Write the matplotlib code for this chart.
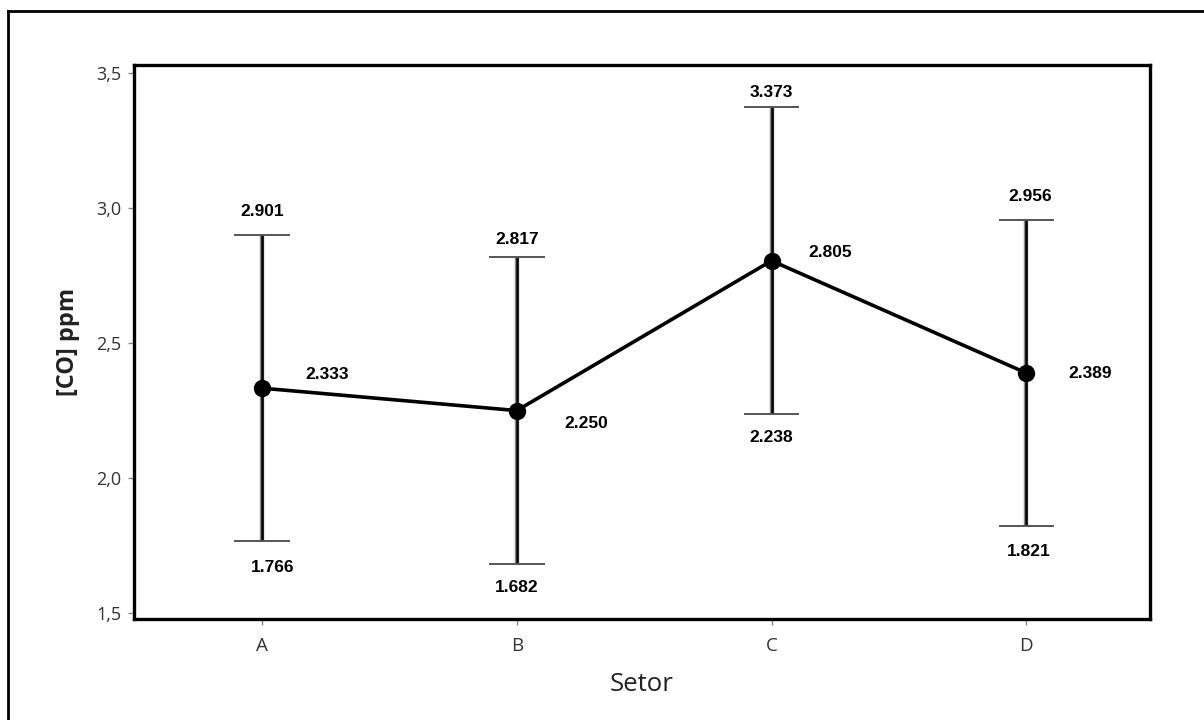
import matplotlib
matplotlib.use('Agg')
import matplotlib.pyplot as plt
from matplotlib.lines import Line2D
from matplotlib.ticker import FuncFormatter

# mean CO concentration per sector with the interval limits
setores = ["A", "B", "C", "D"]
media = [2.333, 2.250, 2.805, 2.389]
limite_sup = [2.901, 2.817, 3.373, 2.956]
limite_inf = [1.766, 1.682, 2.238, 1.821]

# label offsets in points (dx, dy) for mean / upper / lower values
off_media = [(47, 10), (50, -9), (42, 6), (46, 0)]
off_sup = [(0, 17), (0, 13), (0, 11), (3, 17)]
off_inf = [(8, -19), (0, -17), (0, -17), (2, -18)]

fig = plt.figure(figsize=(12.04, 7.2), dpi=100)
ax = fig.add_axes([134 / 1204, 1 - 619 / 720, (1150 - 134) / 1204, (619 - 65) / 720])

x = list(range(len(setores)))
for i in x:
    ax.plot([i, i], [limite_inf[i], limite_sup[i]], color="#8a8a8a", lw=3.2,
            solid_capstyle="butt", zorder=2)
    ax.plot([i, i], [limite_inf[i], limite_sup[i]], color="black", lw=1.8,
            solid_capstyle="butt", zorder=3)
    for v in (limite_inf[i], limite_sup[i]):
        ax.plot([i - 0.105, i + 0.105], [v, v], color="#555555", lw=1.4, zorder=3)

ax.plot(x, media, color="black", lw=2.6, marker="o", ms=11.5, zorder=4)

lbl = dict(fontfamily="Liberation Sans", fontweight="bold", fontsize=12.5,
           ha="center", va="center", color="black")
for i in x:
    ax.annotate(f"{media[i]:.3f}", (i, media[i]), xytext=off_media[i],
                textcoords="offset points", **lbl)
    ax.annotate(f"{limite_sup[i]:.3f}", (i, limite_sup[i]), xytext=off_sup[i],
                textcoords="offset points", **lbl)
    ax.annotate(f"{limite_inf[i]:.3f}", (i, limite_inf[i]), xytext=off_inf[i],
                textcoords="offset points", **lbl)

ax.set_xlim(-0.502, 3.485)
ax.set_ylim(1.478, 3.53)
ax.set_xticks(x)
ax.set_xticklabels(setores)
ax.set_yticks([1.5, 2.0, 2.5, 3.0, 3.5])
ax.yaxis.set_major_formatter(FuncFormatter(lambda v, p: f"{v:.1f}".replace(".", ",")))
ax.tick_params(axis="both", length=4, width=1, color="#888888", labelcolor="#333333",
               labelsize=13, pad=5)
ax.tick_params(axis="x", pad=9, labelsize=13.5)
for t in ax.get_xticklabels() + ax.get_yticklabels():
    t.set_fontfamily("Open Sans")

for s in ax.spines.values():
    s.set_linewidth(2.4)
    s.set_color("black")

ax.set_xlabel("Setor", fontfamily="Open Sans", fontsize=18.5, color="#222222", labelpad=12)
ax.set_ylabel("[CO] ppm", fontfamily="Open Sans", fontsize=17, fontweight="bold",
              color="#222222", labelpad=12)

# page frame around the figure
fig.add_artist(Line2D([8 / 1204, 8 / 1204], [0, 1 - 11 / 720], color="black", lw=2,
                      transform=fig.transFigure))
fig.add_artist(Line2D([8 / 1204, 1], [1 - 11 / 720, 1 - 11 / 720], color="black", lw=2,
                      transform=fig.transFigure))

fig.savefig("out.png", dpi=100)
